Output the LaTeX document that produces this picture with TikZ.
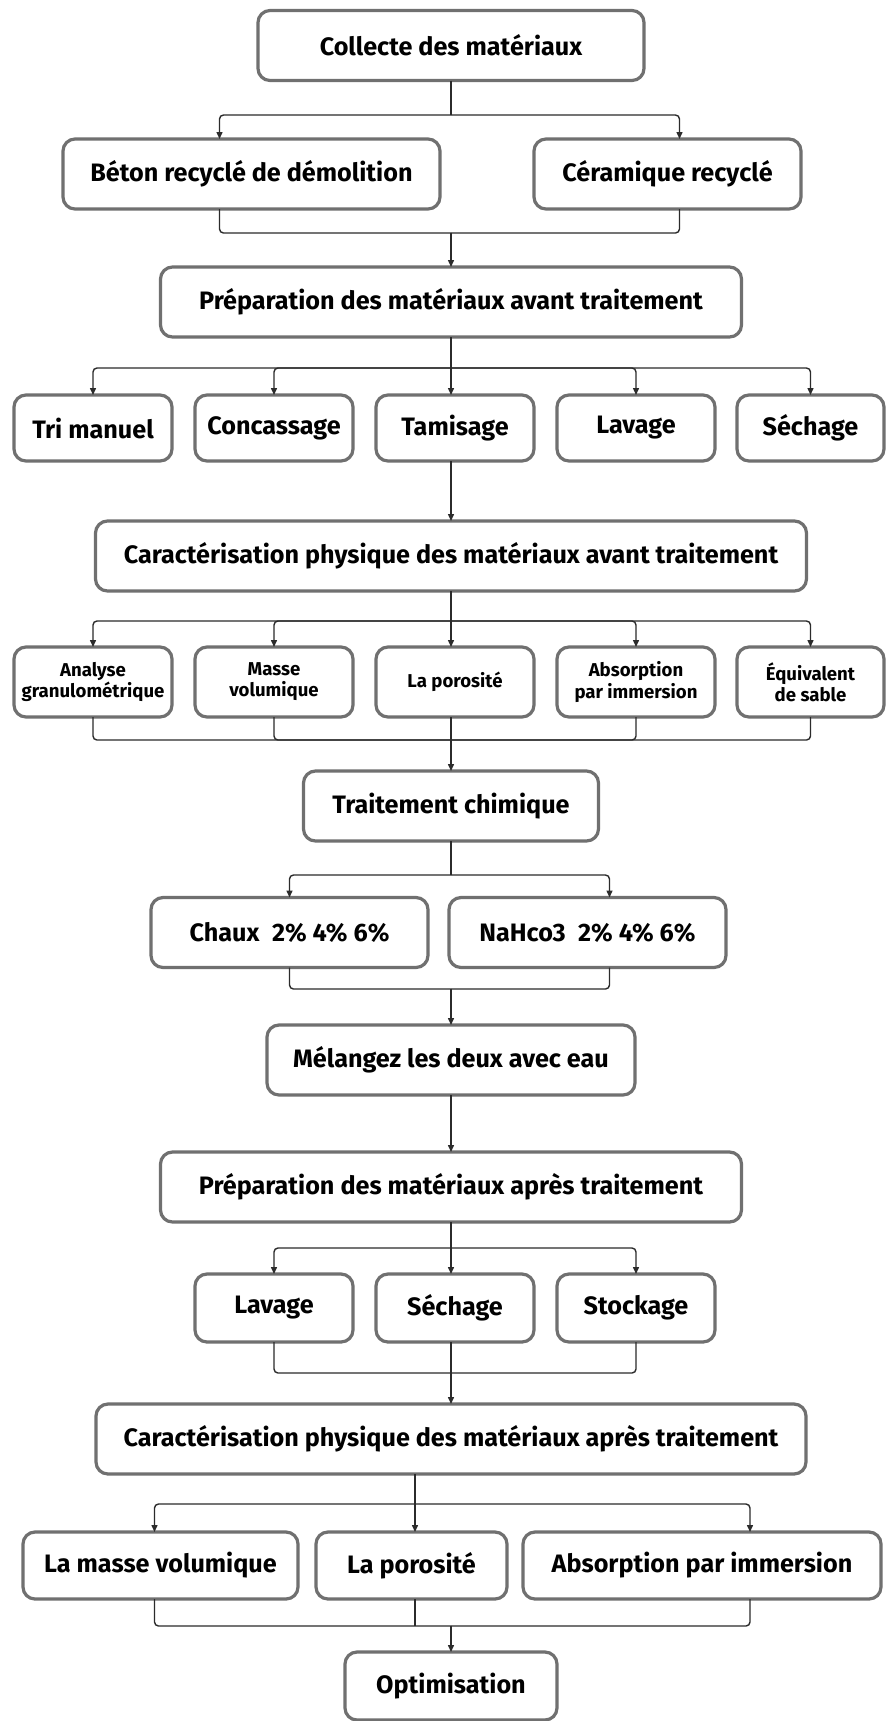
\documentclass[tikz,border=0pt]{standalone}
\usepackage{fontspec}
\setmainfont{Fira Sans}
\usepackage{tikz}
\usetikzlibrary{arrows.meta}
\definecolor{bord}{HTML}{707070}
\definecolor{trait}{HTML}{2B2B2B}

\begin{document}
\begin{tikzpicture}[x=0.5pt,y=-0.5pt,
    boite/.style={draw=bord,line width=1.6pt,rounded corners=6pt,fill=white,align=center,inner sep=2pt,outer sep=0pt,minimum height=35pt,font=\bfseries\fontsize{12.6}{14}\selectfont},
    petite/.style={boite,font=\bfseries\fontsize{9.3}{10.6}\selectfont},
    lien/.style={draw=trait,line width=0.7pt,rounded corners=2pt},
    fleche/.style={lien,-{Triangle[length=3.5pt,width=3pt]}}]
    \path[fill=white,use as bounding box] (0,0) rectangle (886,1721);

    \node[boite,minimum width=193pt] (E1) at (451,45.5) {Collecte des matériaux};
    \node[boite,minimum width=188.5pt] (E2) at (251.5,174) {Béton recyclé de démolition};
    \node[boite,minimum width=133.5pt] (E3) at (667.5,174) {Céramique recyclé};
    \node[boite,minimum width=290.5pt] (E4) at (451,302) {Préparation des matériaux avant traitement};
    \node[boite,minimum width=79pt,minimum height=33pt] (E5) at (93,428) {Tri manuel};
    \node[boite,minimum width=79pt,minimum height=33pt] (E6) at (274,428) {Concassage};
    \node[boite,minimum width=79pt,minimum height=33pt] (E7) at (455,428) {Tamisage};
    \node[boite,minimum width=79pt,minimum height=33pt] (E8) at (636,428) {Lavage};
    \node[boite,minimum width=73.5pt,minimum height=33pt] (E9) at (810.5,428) {Séchage};
    \node[boite,minimum width=355.5pt] (E10) at (451,556) {Caractérisation physique des matériaux avant traitement};
    \node[petite,minimum width=79pt] (E11) at (93,682) {Analyse\\granulométrique};
    \node[petite,minimum width=79pt] (E12) at (274,682) {Masse\\volumique};
    \node[petite,minimum width=79pt] (E13) at (455,682) {La porosité};
    \node[petite,minimum width=79pt] (E14) at (636,682) {Absorption\\par immersion};
    \node[petite,minimum width=73.5pt] (E15) at (810.5,682) {Équivalent\\de sable};
    \node[boite,minimum width=147.5pt] (E16) at (451,806) {Traitement chimique};
    \node[boite,minimum width=138.5pt] (E17) at (289.5,932.5) {Chaux\enspace 2\% 4\% 6\%};
    \node[boite,minimum width=138.5pt] (E18) at (587.5,932.5) {NaHco3\enspace 2\% 4\% 6\%};
    \node[boite,minimum width=184pt] (E19) at (451,1060) {Mélangez les deux avec eau};
    \node[boite,minimum width=290.5pt] (E20) at (451,1187) {Préparation des matériaux après traitement};
    \node[boite,minimum width=79pt,minimum height=34pt] (E21) at (274,1308) {Lavage};
    \node[boite,minimum width=79pt,minimum height=34pt] (E22) at (455,1308) {Séchage};
    \node[boite,minimum width=79pt,minimum height=34pt] (E23) at (636,1308) {Stockage};
    \node[boite,minimum width=355pt] (E24) at (451,1439) {Caractérisation physique des matériaux après traitement};
    \node[boite,minimum width=137.5pt,minimum height=33.5pt] (E25) at (160.5,1565.5) {La masse volumique};
    \node[boite,minimum width=95.5pt,minimum height=33.5pt] (E26) at (411.5,1565.5) {La porosité};
    \node[boite,minimum width=179pt,minimum height=33.5pt] (E27) at (702,1565.5) {Absorption par immersion};
    \node[boite,minimum width=106pt,minimum height=34pt] (E28) at (451,1686) {Optimisation};

    \coordinate (J1) at (451,115);
    \coordinate (J2) at (451,233);
    \coordinate (J3) at (451,368);
    \coordinate (J4) at (451,621);
    \coordinate (J5) at (451,740);
    \coordinate (J6) at (451,875);
    \coordinate (J7) at (451,989);
    \coordinate (J8) at (451,1248);
    \coordinate (J9) at (451,1373);
    \coordinate (J10) at (415,1504);
    \coordinate (J11) at (451,1626);

    \draw[lien] (E1) -- (J1);
    \draw[fleche] (J1) -| ([xshift=-16pt]E2.north);
    \draw[fleche] (J1) -| ([xshift=6pt]E3.north);
    \draw[lien] ([xshift=-16pt]E2.south) |- (J2);
    \draw[lien] ([xshift=6pt]E3.south) |- (J2);
    \draw[fleche] (J2) -- (E4);

    \draw[lien] (E4) -- (J3);
    \foreach \n in {E5,E6,E8,E9}
        \draw[fleche] (J3) -| (\n.north);
    \draw[fleche] (J3) -- (J3 |- E7.north);
    \draw[fleche] (J3 |- E7.south) -- (E10);

    \draw[lien] (E10) -- (J4);
    \foreach \n in {E11,E12,E14,E15}
        \draw[fleche] (J4) -| (\n.north);
    \draw[fleche] (J4) -- (J4 |- E13.north);
    \foreach \n in {E11,E12,E14,E15}
        \draw[lien] (\n.south) |- (J5);
    \draw[lien] (J5 |- E13.south) -- (J5);
    \draw[fleche] (J5) -- (E16);

    \draw[lien] (E16) -- (J6);
    \draw[fleche] (J6) -| (E17.north);
    \draw[fleche] (J6) -| ([xshift=11pt]E18.north);
    \draw[lien] (E17.south) |- (J7);
    \draw[lien] ([xshift=11pt]E18.south) |- (J7);
    \draw[fleche] (J7) -- (E19);
    \draw[fleche] (E19) -- (E20);

    \draw[lien] (E20) -- (J8);
    \draw[fleche] (J8) -| (E21.north);
    \draw[fleche] (J8) -- (J8 |- E22.north);
    \draw[fleche] (J8) -| (E23.north);
    \draw[lien] (E21.south) |- (J9);
    \draw[lien] (J9 |- E22.south) -- (J9);
    \draw[lien] (E23.south) |- (J9);
    \draw[fleche] (J9) -- (E24);

    \draw[lien] (J10 |- E24.south) -- (J10);
    \draw[fleche] (J10) -| ([xshift=-3pt]E25.north);
    \draw[fleche] (J10) -- (J10 |- E26.north);
    \draw[fleche] (J10) -| ([xshift=24pt]E27.north);
    \draw[lien] ([xshift=-3pt]E25.south) |- (J11);
    \draw[lien] (J10 |- E26.south) -- (J10 |- J11);
    \draw[lien] ([xshift=24pt]E27.south) |- (J11);
    \draw[fleche] (J11) -- (E28);
\end{tikzpicture}
\end{document}
